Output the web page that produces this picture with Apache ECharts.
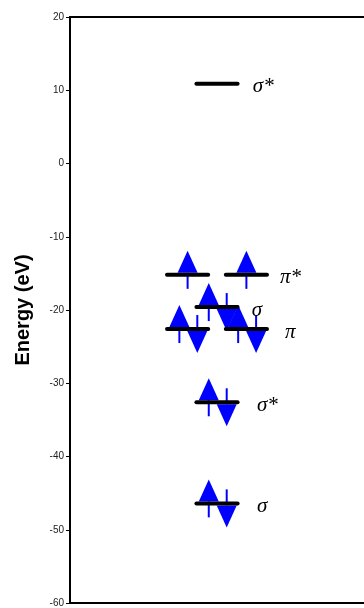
<!DOCTYPE html>
<html><head><meta charset="utf-8">
<script src="https://cdn.jsdelivr.net/npm/echarts@6/dist/echarts.min.js"></script>
<style>html,body{margin:0;padding:0;background:#fff}#c{width:364px;height:608px}</style>
</head><body><div id="c"></div>
<script>
// Energy levels: column position (x) and energy (eV)
const levelX = [5, 4, 6, 5, 4, 6, 5, 5];
const levelE = [10.9, -15.2, -15.2, -19.6, -22.6, -22.6, -32.6, -46.4];
// Electrons: column, energy, spin (1 up, -1 down), side offset in column units
const elecX = [4, 6, 5, 5, 4, 4, 6, 6, 5, 5, 5, 5];
const elecE = [-15.2, -15.2, -19.6, -19.6, -22.6, -22.6, -22.6, -22.6, -32.6, -32.6, -46.4, -46.4];
const elecSpin = [1, 1, 1, -1, 1, -1, 1, -1, 1, -1, 1, -1];
const elecSide = [0, 0, -0.28, 0.33, -0.28, 0.33, -0.28, 0.33, -0.28, 0.33, -0.28, 0.33];
// Orbital labels
const labelText = ['σ*', 'π*', 'σ', 'π', 'σ*', 'σ'];
const labelX = [6.22, 7.14, 6.18, 7.31, 6.36, 6.36];
const labelE = [10.9, -15.2, -19.6, -22.6, -32.6, -46.4];
const yTicks = [-60, -50, -40, -30, -20, -10, 0, 10, 20];

const chart = echarts.init(document.getElementById('c'));
const arrowData = elecX.map((x, i) => [x + elecSide[i], elecE[i], elecSpin[i]]);
const levelData = levelX.map((x, i) => [x, levelE[i]]);
const labelData = labelX.map((x, i) => [x, labelE[i], labelText[i]]);

chart.setOption({
  animation: false,
  grid: {left: 70, top: 17, right: -1, bottom: 3},
  xAxis: [
    {type: 'value', min: 0, max: 10, position: 'bottom',
     axisLine: {show: true, onZero: false, lineStyle: {color: '#000', width: 2}},
     axisTick: {show: false}, axisLabel: {show: false}, splitLine: {show: false}},
    {type: 'value', min: 0, max: 10, position: 'top',
     axisLine: {show: true, onZero: false, lineStyle: {color: '#000', width: 2}},
     axisTick: {show: false}, axisLabel: {show: false}, splitLine: {show: false}}
  ],
  yAxis: {
    type: 'value', min: yTicks[0], max: yTicks[yTicks.length - 1], interval: 10,
    name: 'Energy (eV)', nameLocation: 'middle', nameGap: 37,
    nameTextStyle: {fontFamily: 'Liberation Sans', fontWeight: 'bold', fontSize: 20, color: '#000'},
    axisLine: {show: true, onZero: false, lineStyle: {color: '#000', width: 2}},
    axisTick: {show: true, length: 4, lineStyle: {color: '#000', width: 1}},
    axisLabel: {fontFamily: 'Liberation Sans', fontSize: 10, color: '#222', margin: 6},
    splitLine: {show: false}
  },
  series: [
    {
      type: 'custom', data: arrowData, z: 2,
      renderItem: function (params, api) {
        const p = api.coord([api.value(0), api.value(1)]);
        const s = api.value(2);
        const tipY = p[1] - s * 24, baseY = p[1] - s * 2, tailY = p[1] + s * 14;
        return {type: 'group', children: [
          {type: 'line', shape: {x1: p[0], y1: tailY, x2: p[0], y2: baseY},
           style: {stroke: '#0000ff', lineWidth: 2}},
          {type: 'polygon', shape: {points: [[p[0] - 10, baseY], [p[0] + 10, baseY], [p[0], tipY]]},
           style: {fill: '#0000ff'}}
        ]};
      }
    },
    {
      type: 'custom', data: levelData, z: 3,
      renderItem: function (params, api) {
        const a = api.coord([api.value(0) - 0.7, api.value(1)]);
        const b = api.coord([api.value(0) + 0.7, api.value(1)]);
        return {type: 'line', shape: {x1: a[0], y1: a[1], x2: b[0], y2: b[1]},
          style: {stroke: '#000', lineWidth: 4, lineCap: 'round'}};
      }
    },
    {
      type: 'custom', data: labelData, z: 4,
      renderItem: function (params, api) {
        const p = api.coord([api.value(0), api.value(1)]);
        return {type: 'text', x: p[0], y: p[1] + 3,
          style: {text: labelText[params.dataIndex], fontFamily: 'Liberation Serif', fontStyle: 'italic',
            fontSize: 21, fill: '#000', align: 'left', verticalAlign: 'middle'}};
      }
    }
  ]
});
</script></body></html>
